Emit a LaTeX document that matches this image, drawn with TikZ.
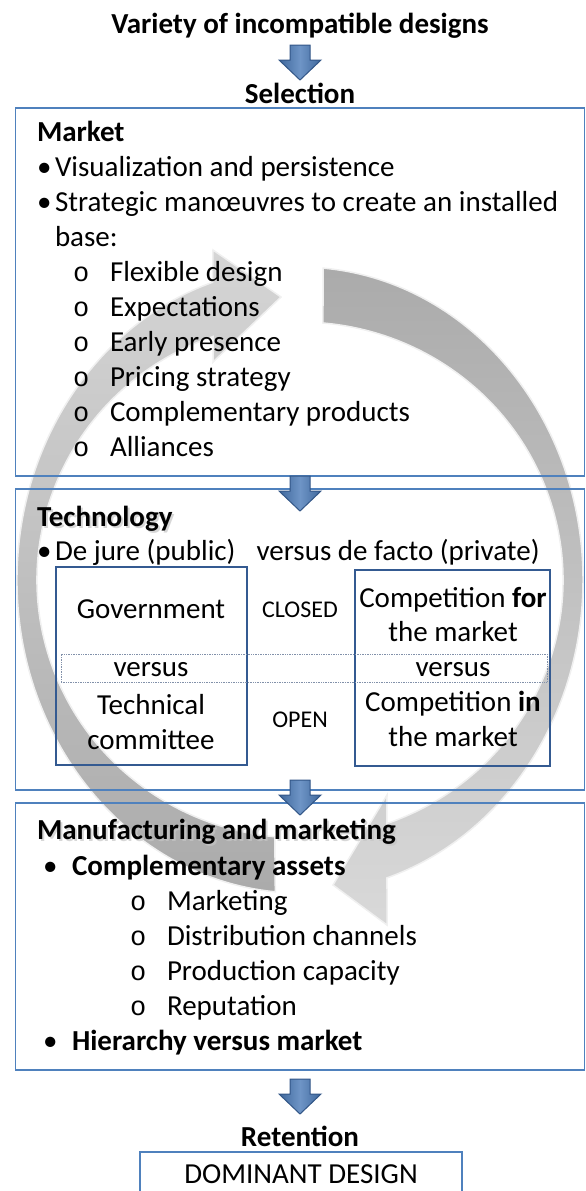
\documentclass[tikz,border=0pt]{standalone}
\usepackage{fontspec}
\setmainfont{Carlito}
\newfontfamily\ringfont{Liberation Mono}
\definecolor{boxblue}{RGB}{79,129,189}
\definecolor{innerblue}{RGB}{52,90,145}
\definecolor{arrfill}{RGB}{74,122,184}
\definecolor{arredge}{RGB}{50,86,135}
\definecolor{dotblue}{RGB}{130,145,170}
\newcommand\blockarrow[1]{%
  \shadedraw[bluearrow] ([shift={(-10,-17)}]#1) -- ++(20,0) -- ++(0,15) -- ++(11,0)
    -- ++(-21,20) -- ++(-21,-20) -- ++(11,0) -- cycle;}
\begin{document}
\begin{tikzpicture}[x=1pt,y=-1pt,
  every node/.style={inner sep=0pt, outer sep=0pt},
  txtl/.style={anchor=base west, font=\fontsize{29}{35}\selectfont},
  txtc/.style={anchor=base, font=\fontsize{29}{35}\selectfont},
  ring/.style={anchor=base west, font=\ringfont\fontsize{27}{35}\selectfont},
  smallc/.style={anchor=base, font=\fontsize{24}{29}\selectfont},
  shadowtxt/.style={txtl, text=gray!45, opacity=0.7},
  outerbox/.style={draw=boxblue, line width=1.8pt, rectangle},
  innerbox/.style={draw=innerblue, line width=1.8pt, rectangle},
  dotbox/.style={draw=dotblue, densely dotted, line width=0.7pt, rectangle},
  cyclearrow/.style={draw=gray!12, line width=1.5pt},
  bluearrow/.style={draw=arredge, line width=1pt, left color=arrfill!85!black,
    right color=arrfill!85!black, middle color=arrfill!80!white, line join=miter}
]
\useasboundingbox (0,0) rectangle (586,1191);

% background cycle arrows
\shadedraw[cyclearrow, top color=gray!33, bottom color=gray!66]
  (275.3,891.8) arc[start angle=95, end angle=252, x radius=283, y radius=313]
  -- (213,250) -- (281,297) -- (213,362) -- (213.1,336.5)
  arc[start angle=250.7, end angle=95.5, x radius=263, y radius=258] -- cycle;
\shadedraw[cyclearrow, top color=gray!66, bottom color=gray!30]
  (323.2,268.1) arc[start angle=274.7, end angle=432.1, x radius=283, y radius=313]
  -- (387,925) -- (333,885) -- (387,795) -- (386.9,823.5)
  arc[start angle=430.7, end angle=275, x radius=263, y radius=258] -- cycle;

% boxes
\node[outerbox, minimum width=569pt, minimum height=368pt] (marketbox) at (300,292) {};
\node[outerbox, minimum width=569pt, minimum height=301pt] (techbox) at (300,639.5) {};
\node[outerbox, minimum width=569pt, minimum height=267pt] (manufbox) at (300,936.5) {};
\node[outerbox, minimum width=322pt, minimum height=70pt] (dombox) at (301,1187) {};
\node[innerbox, minimum width=191pt, minimum height=198pt] (govbox) at (151.5,666) {};
\node[innerbox, minimum width=195pt, minimum height=196pt] (compbox) at (452.5,668) {};
\node[dotbox, minimum width=486pt, minimum height=28pt] (versusrow) at (304,668) {};

% top
\node[txtc] (title) at (300,33) {\textbf{Variety of incompatible designs}};
\node[txtc] (selection) at (300,103) {\textbf{Selection}};

% market
\node[txtl] (market) at (37,141) {\textbf{Market}};
\node[txtl] (mb1) at (37,176) {•};
\node[txtl] (m1) at (55,176) {Visualization and persistence};
\node[txtl] (mb2) at (37,211) {•};
\node[txtl] (m2) at (55,211) {Strategic manœuvres to create an installed};
\node[txtl] (m2b) at (55,246) {base:};
\node[ring] (mo1) at (73,281) {o}; \node[txtl] (s1) at (110,281) {Flexible design};
\node[ring] (mo2) at (73,316) {o}; \node[txtl] (s2) at (110,316) {Expectations};
\node[ring] (mo3) at (73,351) {o}; \node[txtl] (s3) at (110,351) {Early presence};
\node[ring] (mo4) at (73,386) {o}; \node[txtl] (s4) at (110,386) {Pricing strategy};
\node[ring] (mo5) at (73,421) {o}; \node[txtl] (s5) at (110,421) {Complementary products};
\node[ring] (mo6) at (73,456) {o}; \node[txtl] (s6) at (110,456) {Alliances};

% technology
\node[shadowtxt] (techshadow) at (39,528) {\textbf{Technology}};
\node[txtl] (tech) at (37,526) {\textbf{Technology}};
\node[txtl] (tb1) at (37,560) {•};
\node[txtl] (t1) at (55,560) {De jure (public)\hspace{0.5em} versus de facto (private)};
\node[txtc] (gov) at (151,618) {Government};
\node[smallc] (closed) at (300,617) {CLOSED};
\node[txtc] (compfor) at (453,607) {Competition \textbf{for}};
\node[txtc] (compfor2) at (453,641) {the market};
\node[txtc] (versusl) at (151,676) {versus};
\node[txtc] (versusr) at (453,676) {versus};
\node[txtc] (techn) at (151,714) {Technical};
\node[txtc] (techn2) at (151,749) {committee};
\node[smallc] (open) at (300,727) {OPEN};
\node[txtc] (compin) at (453,711) {Competition \textbf{in}};
\node[txtc] (compin2) at (453,746) {the market};

% manufacturing
\node[shadowtxt] (manufshadow) at (39,841) {\textbf{Manufacturing and marketing}};
\node[txtl] (manuf) at (37,839) {\textbf{Manufacturing and marketing}};
\node[txtl] (fb1) at (43,875) {•};
\node[txtl] (f1) at (72,875) {\textbf{Complementary assets}};
\node[ring] (fo1) at (130,910) {o}; \node[txtl] (g1) at (167,910) {Marketing};
\node[ring] (fo2) at (130,945) {o}; \node[txtl] (g2) at (167,945) {Distribution channels};
\node[ring] (fo3) at (130,980) {o}; \node[txtl] (g3) at (167,980) {Production capacity};
\node[ring] (fo4) at (130,1015) {o}; \node[txtl] (g4) at (167,1015) {Reputation};
\node[txtl] (fb2) at (43,1050) {•};
\node[txtl] (f2) at (72,1050) {\textbf{Hierarchy versus market}};

% bottom
\node[txtc] (retention) at (300,1146) {\textbf{Retention}};
\node[txtc] (dominant) at (301,1183) {DOMINANT DESIGN};

% blue flow arrows
\coordinate (arrow1) at (300,62);
\coordinate (arrow2) at (300,493);
\coordinate (arrow3) at (300,797);
\coordinate (arrow4) at (300,1096);
\blockarrow{arrow1}
\blockarrow{arrow2}
\blockarrow{arrow3}
\blockarrow{arrow4}
\end{tikzpicture}
\end{document}
